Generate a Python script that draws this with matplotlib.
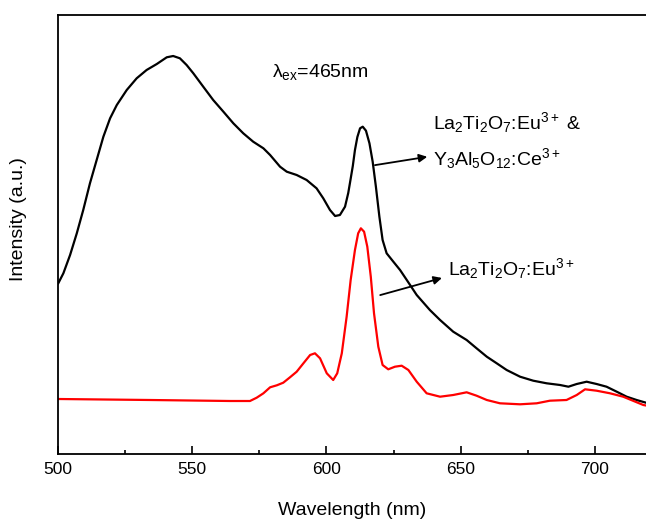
import matplotlib
matplotlib.use("Agg")
import matplotlib.pyplot as plt
from matplotlib.ticker import MultipleLocator

plt.rcParams['font.family'] = ['Liberation Sans', 'DejaVu Sans']
plt.rcParams['mathtext.fontset'] = 'custom'
plt.rcParams['mathtext.rm'] = 'Liberation Sans'
plt.rcParams['mathtext.it'] = 'Liberation Sans:italic'
plt.rcParams['mathtext.bf'] = 'Liberation Sans:bold'

# La2Ti2O7:Eu3+ & Y3Al5O12:Ce3+ (black)
wl_mix = [500.1, 502.0, 504.5, 507.0, 509.4, 511.9, 514.4, 516.9, 519.4, 521.9,
          525.6, 529.3, 533.0, 536.8, 540.5, 542.9, 545.4, 547.9, 550.4, 554.1,
          557.8, 561.6, 565.3, 569.0, 572.7, 576.5, 579.0, 582.7, 585.2, 588.9,
          592.6, 596.3, 598.8, 601.3, 603.2, 605.0, 606.9, 608.1, 608.8, 609.8,
          610.6, 611.5, 612.5, 613.5, 614.7, 616.0, 617.2, 618.4, 619.7, 620.9,
          622.4, 624.9, 627.4, 629.9, 633.6, 638.5, 642.3, 647.2, 652.2, 655.9,
          659.7, 663.4, 667.1, 672.1, 677.0, 682.0, 687.0, 690.1, 693.2, 696.9,
          700.6, 704.3, 708.1, 711.8, 715.5, 719.0]
int_mix = [170.7, 180.7, 199, 220.7, 244, 270.7, 294, 317.3, 335.7, 349,
           364, 375.7, 384, 390, 396.7, 398, 395.7, 389, 380.7, 367.3,
           354, 342.3, 330.7, 320.7, 312.3, 305.7, 299, 287.3, 282.3, 279,
           274, 265.7, 255.7, 244, 238, 239, 247.3, 261, 272, 288,
           304, 317, 325.7, 327.3, 323.3, 310.7, 292.3, 267.3, 237.3, 214,
           200.7, 192.3, 184, 174, 159, 144, 134, 122.3, 114, 105.7,
           97.3, 90.7, 84, 77.3, 73.3, 70.7, 69, 67.3, 70, 72.3,
           70, 67.3, 62.3, 57.3, 54, 51.3]

# La2Ti2O7:Eu3+ (red)
wl_eu = [500, 534.3, 564.1, 571.5, 574.0, 576.5, 579.0, 581.5, 583.9, 586.4,
         588.9, 591.4, 593.9, 595.7, 597.6, 600.1, 602.5, 604.0, 605.7, 607.5,
         609.0, 610.6, 611.8, 612.8, 614.0, 615.2, 616.5, 617.7, 619.3, 620.9,
         623.0, 625.5, 628.0, 630.5, 633.6, 637.3, 642.3, 647.2, 652.2, 655.9,
         659.7, 664.6, 672.1, 678.3, 683.2, 689.4, 693.2, 696.3, 700.6, 705.6,
         710.5, 718.0, 719.0]
int_eu = [55, 54, 53, 53, 56.3, 60.7, 66.7, 68.7, 71.3, 76.7,
          82.3, 90.7, 99, 100.7, 95.7, 80.7, 74, 80.7, 100.7, 137.3,
          174, 204, 220.7, 225.7, 222.3, 207.3, 177.3, 140.7, 107.3, 89,
          84.7, 87.3, 88.3, 84, 72.3, 60.7, 57.3, 59, 61.7, 58.3,
          54, 50.7, 49.7, 50.7, 53.3, 54, 59, 64.7, 63.3, 60.7,
          57.3, 49, 48.5]

fig = plt.figure(figsize=(6.46, 5.2), dpi=100)
ax = fig.add_axes([58/646, 1-454/520, 588/646, 439/520])

ax.plot(wl_mix, int_mix, color='black', lw=1.6)
ax.plot(wl_eu, int_eu, color='#ff0000', lw=1.6)

ax.set_xlim(500, 719)
ax.set_ylim(0, 439)
ax.xaxis.set_major_locator(MultipleLocator(50))
ax.xaxis.set_minor_locator(MultipleLocator(25))
ax.set_yticks([])
ax.tick_params(axis='x', which='major', direction='in', length=6, width=1.2,
               labelsize=12.5, pad=6)
ax.tick_params(axis='x', which='minor', direction='in', length=3, width=1.2)
ax.spines['right'].set_visible(False)
for s in ['left', 'top', 'bottom']:
    ax.spines[s].set_linewidth(1.3)

ax.set_xlabel('Wavelength (nm)', fontsize=14, labelpad=18)
ax.set_ylabel('Intensity (a.u.)', fontsize=14)
ax.yaxis.set_label_coords(-0.052, 0.535)

ax.text(0.364, 0.859, r'λ$_\mathrm{ex}$=465nm', transform=ax.transAxes,
        fontsize=14, va='baseline')
ax.text(0.638, 0.740, r'La$_2$Ti$_2$O$_7$:Eu$^{3+}$ &', transform=ax.transAxes,
        fontsize=14, va='baseline')
ax.text(0.638, 0.658, r'Y$_3$Al$_5$O$_{12}$:Ce$^{3+}$', transform=ax.transAxes,
        fontsize=14, va='baseline')
ax.text(0.663, 0.408, r'La$_2$Ti$_2$O$_7$:Eu$^{3+}$', transform=ax.transAxes,
        fontsize=14, va='baseline')

arrow = dict(arrowstyle='-|>', color='black', lw=1.3, mutation_scale=12,
             shrinkA=0, shrinkB=0)
ax.annotate('', xy=(0.628, 0.677), xytext=(0.539, 0.658),
            xycoords='axes fraction', arrowprops=arrow)
ax.annotate('', xy=(0.653, 0.401), xytext=(0.548, 0.362),
            xycoords='axes fraction', arrowprops=arrow)

fig.savefig('out.png', dpi=100)
